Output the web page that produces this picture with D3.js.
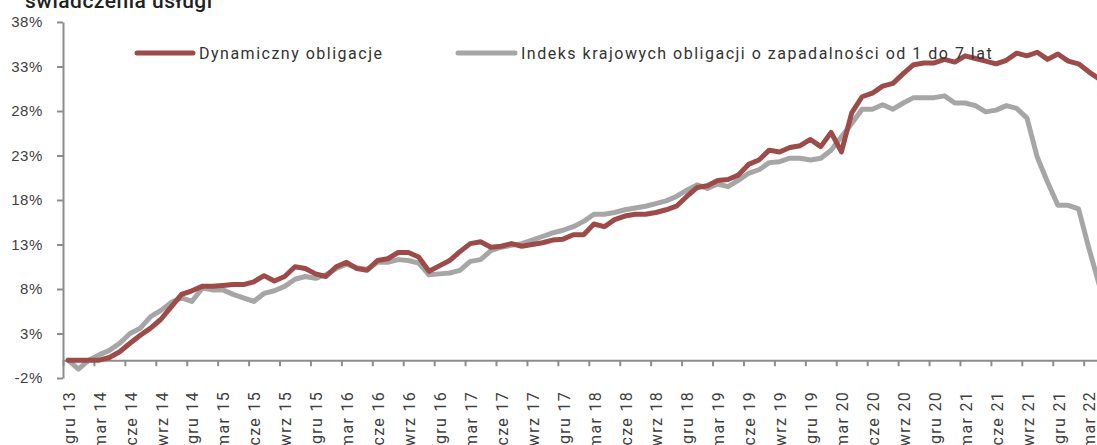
<!DOCTYPE html>
<html lang="pl">
<head>
    <meta charset="UTF-8">
    <title>Dynamiczny obligacje</title>
    <script src="https://d3js.org/d3.v7.min.js"></script>
    <style type="text/css">
        body { margin: 0; background: #fff; }
        svg { display: block; font-family: Roboto, "Open Sans", sans-serif; }
        .axis path, .axis line { stroke: #8c8c8c; stroke-width: 2px; }
        .axis text { fill: #404040; font-size: 15px; letter-spacing: 0.6px; }
        .xlab { fill: #404040; font-size: 16px; letter-spacing: 1.3px; }
        .legend { fill: #333; font-size: 16px; letter-spacing: 1.5px; }
        .title { fill: #222; font-size: 21px; font-weight: 500; letter-spacing: 0.5px; }
        .line { fill: none; stroke-width: 5px; stroke-linejoin: round; stroke-linecap: round; }
    </style>
</head>
<body>
<script type="text/javascript">
    // month names used for the category axis
    const monthNames = ["sty", "lut", "mar", "kwi", "maj", "cze", "lip", "sie", "wrz", "paź", "lis", "gru"];
    const startMonth = 11, startYear = 13, monthCount = 101; // gru 13 .. kwi 22

    const yTicks = [-2, 3, 8, 13, 18, 23, 28, 33, 38];

    const seriesNames = ["Dynamiczny obligacje", "Indeks krajowych obligacji o zapadalności od 1 do 7 lat"];

    // Dynamiczny obligacje, %
    const dynamiczny = [
        0, 0, 0, 0, 0.3, 0.95, 1.9, 2.8, 3.6, 4.6,
        6.0, 7.4, 7.8, 8.3, 8.3, 8.4, 8.5, 8.5, 8.8, 9.5,
        8.9, 9.4, 10.5, 10.3, 9.7, 9.4, 10.5, 11.0, 10.3, 10.1,
        11.2, 11.4, 12.1, 12.1, 11.6, 10.0, 10.6, 11.2, 12.2, 13.1,
        13.3, 12.7, 12.8, 13.1, 12.8, 13.0, 13.2, 13.5, 13.6, 14.1,
        14.1, 15.3, 15.0, 15.8, 16.2, 16.4, 16.4, 16.6, 16.9, 17.3,
        18.4, 19.4, 19.6, 20.2, 20.3, 20.8, 22.0, 22.5, 23.6, 23.4,
        23.9, 24.1, 24.8, 24.0, 25.6, 23.4, 27.8, 29.6, 30.0, 30.8,
        31.1, 32.2, 33.2, 33.4, 33.4, 33.8, 33.5, 34.2, 33.9, 33.6,
        33.3, 33.7, 34.5, 34.2, 34.6, 33.8, 34.4, 33.6, 33.3, 32.4,
        31.6
    ];

    // Indeks krajowych obligacji 1-7 lat, %
    const indeks = [
        0, -1.0, 0, 0.6, 1.1, 1.9, 3.0, 3.6, 4.9, 5.6,
        6.5, 7.0, 6.6, 8.1, 7.9, 7.9, 7.4, 7.0, 6.6, 7.5,
        7.8, 8.3, 9.1, 9.4, 9.2, 9.6, 10.3, 10.8, 10.4, 10.2,
        11.0, 11.0, 11.3, 11.2, 10.9, 9.6, 9.7, 9.8, 10.1, 11.1,
        11.3, 12.3, 12.7, 12.9, 13.1, 13.5, 13.9, 14.3, 14.6, 15.0,
        15.6, 16.4, 16.4, 16.6, 16.9, 17.1, 17.3, 17.6, 17.9, 18.4,
        19.1, 19.7, 19.3, 19.8, 19.5, 20.2, 21.0, 21.4, 22.2, 22.3,
        22.7, 22.7, 22.5, 22.7, 23.6, 25.1, 26.6, 28.2, 28.2, 28.7,
        28.2, 28.9, 29.5, 29.5, 29.5, 29.7, 28.9, 28.9, 28.6, 27.9,
        28.1, 28.6, 28.3, 27.2, 22.8, 20.0, 17.4, 17.4, 17.0, 12.6,
        8.5
    ];

    const colors = ["#9c4b48", "#a6a6a6"];

    const width = 1097;
    const height = 445;
    const left = 63;
    const step = 10.31;

    const categories = [];
    for (let i = 0; i < monthCount; i++) {
        const m = (startMonth + i) % 12;
        const yr = startYear + Math.floor((startMonth + i) / 12);
        categories.push(monthNames[m] + " " + yr);
    }

    const svg = d3.select("body")
        .append("svg")
        .attr("width", width)
        .attr("height", height);

    const x = d3.scaleBand()
        .domain(categories)
        .range([left, left + categories.length * step]);

    // boundaries between categories, used for the tick marks
    const xb = d3.scaleLinear()
        .domain([0, categories.length])
        .range(x.range());

    const y = d3.scaleLinear()
        .domain([-2, 38])
        .range([378, 22]);

    // title (cut at the top edge)
    svg.append("text")
        .attr("class", "title")
        .attr("x", 25)
        .attr("y", 8)
        .text("świadczenia usługi");

    svg.append("g")
        .attr("class", "axis")
        .attr("transform", `translate(${left},0)`)
        .call(d3.axisLeft(y)
            .tickValues(yTicks)
            .tickSize(6)
            .tickSizeOuter(0)
            .tickPadding(14)
            .tickFormat(d => d + "%"));

    svg.append("g")
        .attr("class", "axis")
        .attr("transform", `translate(0,${y(0)})`)
        .call(d3.axisBottom(xb)
            .tickValues(d3.range(0, categories.length, 3))
            .tickSize(6)
            .tickSizeOuter(0)
            .tickFormat(""));

    svg.append("g")
        .selectAll("text")
        .data(categories.filter((c, i) => i % 3 === 0))
        .join("text")
        .attr("class", "xlab")
        .attr("transform", d => `translate(${x(d) + x.bandwidth() / 2 + 1},391) rotate(-90)`)
        .attr("dy", "0.35em")
        .attr("text-anchor", "end")
        .text(d => d);

    const line = d3.line()
        .x((d, i) => x(categories[i]) + x.bandwidth() / 2)
        .y(d => y(d));

    svg.append("path")
        .datum(indeks)
        .attr("class", "line")
        .attr("stroke", colors[1])
        .attr("d", line);

    svg.append("path")
        .datum(dynamiczny)
        .attr("class", "line")
        .attr("stroke", colors[0])
        .attr("d", line);

    // legend
    const legendPos = [[137, 193], [458, 515]];
    seriesNames.forEach((name, k) => {
        svg.append("line")
            .attr("x1", legendPos[k][0])
            .attr("x2", legendPos[k][1])
            .attr("y1", 53)
            .attr("y2", 53)
            .attr("stroke", colors[k])
            .attr("stroke-width", 5)
            .attr("stroke-linecap", "round");
        svg.append("text")
            .attr("class", "legend")
            .attr("x", legendPos[k][1] + 6)
            .attr("y", 58.5)
            .text(name);
    });
</script>
</body>
</html>
